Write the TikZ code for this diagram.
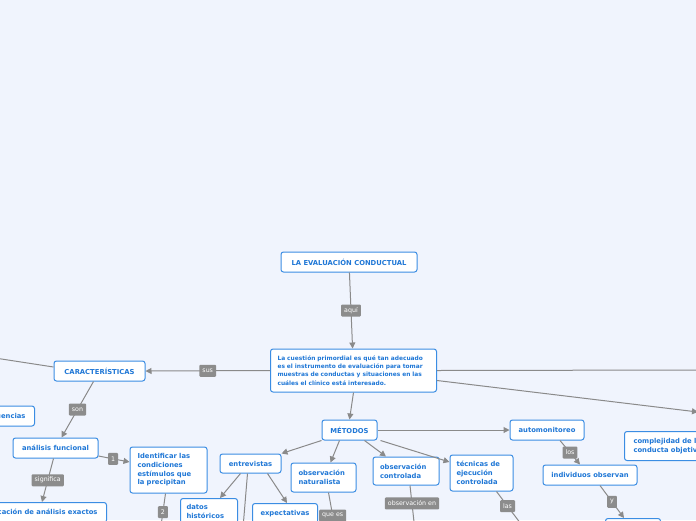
\documentclass[tikz,border=0pt]{standalone}
\usepackage{fontspec}
\setmainfont{DejaVu Sans}
\usetikzlibrary{arrows.meta}
\definecolor{bg}{HTML}{F0F4FD}
\definecolor{nborder}{HTML}{3B8DE3}
\definecolor{ntext}{HTML}{1F77D6}
\definecolor{lgray}{HTML}{8C8C8C}
\definecolor{cgray}{HTML}{8A8A8A}
\tikzset{
 box/.style={draw=nborder, fill=white, rounded corners=2.5pt, line width=1pt, text=ntext,
   font=\bfseries\fontsize{6.8}{8.7}\selectfont, inner xsep=0pt, inner ysep=0pt},
 lbl/.style={fill=lgray, text=white, font=\fontsize{6.3}{7}\selectfont, rounded corners=1pt,
   inner xsep=3pt, inner ysep=0pt, minimum height=12pt},
 conn/.style={draw=cgray, line width=1pt, -{Triangle[length=6pt,width=6pt]}},
 plainline/.style={draw=cgray, line width=1pt},
}
\begin{document}
\begin{tikzpicture}[x=1pt,y=-1pt]
\useasboundingbox (0,0) rectangle (696,520);
\clip (0,0) rectangle (696,520);
\fill[bg] (0,0) rectangle (696,520);

% nodes
\node[box, minimum width=136pt, minimum height=20pt] (title) at (349,262) {LA EVALUACIÓN CONDUCTUAL};
\node[box, minimum width=166pt, minimum height=43pt, text width=152pt, align=left,
      font=\bfseries\fontsize{5.9}{8.3}\selectfont] (main) at (353.5,370.5)
  {La cuestión primordial es qué tan adecuado\\es el instrumento de evaluación para tomar\\muestras de conductas y situaciones en las\\cuáles el clínico está interesado.};
\node[box, minimum width=91pt, minimum height=20pt] (car) at (99.5,371) {CARACTERÍSTICAS};
\node[box, minimum height=20pt, inner xsep=9pt, anchor=east] (enc) at (35,416) {consecuencias};
\node[box, minimum width=85pt, minimum height=20pt] (af) at (55.5,448) {análisis funcional};
\node[box, minimum width=77pt, minimum height=46pt, text width=62pt, align=left] (ident) at (168.5,470)
  {Identificar las\\condiciones\\estímulos que\\la precipitan};
\node[box, minimum height=20pt, inner xsep=9pt, anchor=north east] (aplic) at (107,502) {Aplicación de análisis exactos};
\node[box, minimum width=55pt, minimum height=20pt] (met) at (349.5,430) {MÉTODOS};
\node[box, minimum width=61pt, minimum height=19pt] (entr) at (250.5,463.5) {entrevistas};
\node[box, minimum width=65pt, minimum height=29pt, text width=50pt, align=left] (obsnat) at (323.5,477.5)
  {observación\\naturalista};
\node[box, minimum width=66pt, minimum height=28pt, text width=52pt, align=left] (obsctl) at (406,471)
  {observación\\controlada};
\node[box, minimum width=63pt, minimum height=36pt, text width=50pt, align=left] (tec) at (481.5,473)
  {técnicas de\\ejecución\\controlada};
\node[box, minimum width=74pt, minimum height=20pt] (auto) at (547,430) {automonitoreo};
\node[box, minimum width=94pt, minimum height=20pt] (indiv) at (590,475) {individuos observan};
\node[box, minimum height=29pt, text width=80pt, inner xsep=9pt, align=left, anchor=north west] (compl) at (624,431)
  {complejidad de la\\conducta objetiva};
\node[box, minimum width=57pt, text width=45pt, inner ysep=6pt, align=left, anchor=north west] (datos) at (180,498)
  {datos\\históricos};
\node[box, minimum width=65pt, text width=49pt, inner ysep=7pt, align=left, anchor=north west] (expect) at (252,503)
  {expectativas};
\node[box, minimum width=55pt, minimum height=20pt, anchor=north west] (bottom) at (605,518) {};

% free ends
\coordinate (offL) at (-5,358);
\coordinate (offR1) at (700,370);
\coordinate (offR2) at (698,412);
\coordinate (offI) at (159,540);
\coordinate (offE) at (242,540);
\coordinate (offN) at (338,545);
\coordinate (offC) at (416,540);
\coordinate (offT) at (530,536);

% connectors
\draw[conn] (title) -- (main) node[lbl, midway] {aquí};
\draw[conn] (main.west) -- (car.east) node[lbl, midway] {sus};
\draw[plainline] ([yshift=4pt]car.west) -- (offL);
\draw[plainline] (main.east) -- (offR1);
\draw[conn] ([yshift=-10pt]main.east) -- (offR2);
\draw[conn] (car) -- (af) node[lbl, midway] {son};
\draw[conn] ([xshift=-2pt]af.south) -- ([xshift=-65pt]aplic.north east) node[lbl, midway] {significa};
\draw[conn] ([yshift=-8pt]af.east) -- ([yshift=8pt]ident.west) node[lbl, pos=0.47] {1};
\draw[plainline] ([xshift=-3pt]ident.south) -- (offI) node[lbl, pos=0.40] {2};
\draw[conn] (main.south) -- (met.north);
\draw[conn] (met.south west) -- (entr.north east);
\draw[conn] ([xshift=-10pt]met.south) -- ([xshift=7pt]obsnat.north);
\draw[conn] ([xshift=15pt]met.south) -- ([xshift=-20pt]obsctl.north);
\draw[conn] ([xshift=3pt]met.south east) -- ([yshift=11pt]tec.west);
\draw[conn] (met.east) -- (auto.west);
\draw[conn] ([xshift=-10pt]entr.south) -- ([xshift=11pt]datos.north);
\draw[plainline] ([xshift=-3pt]entr.south) -- (offE);
\draw[conn] ([xshift=17pt]entr.south) -- ([xshift=2pt]expect.north);
\draw[plainline] ([xshift=5pt]obsnat.south) -- (offN) node[lbl, pos=0.44] {que es};
\draw[plainline] ([xshift=4pt]obsctl.south) -- (offC) node[lbl, pos=0.33] {observación en};
\draw[plainline] ([xshift=15pt]tec.south) -- (offT) node[lbl, pos=0.33] {las};
\draw[conn] ([xshift=13pt]auto.south) -- ([xshift=-10pt]indiv.north) node[lbl, midway] {los};
\draw[conn] ([xshift=10pt]indiv.south) -- ([xshift=-9pt]bottom.north) node[lbl, midway] {y};
\end{tikzpicture}
\end{document}
